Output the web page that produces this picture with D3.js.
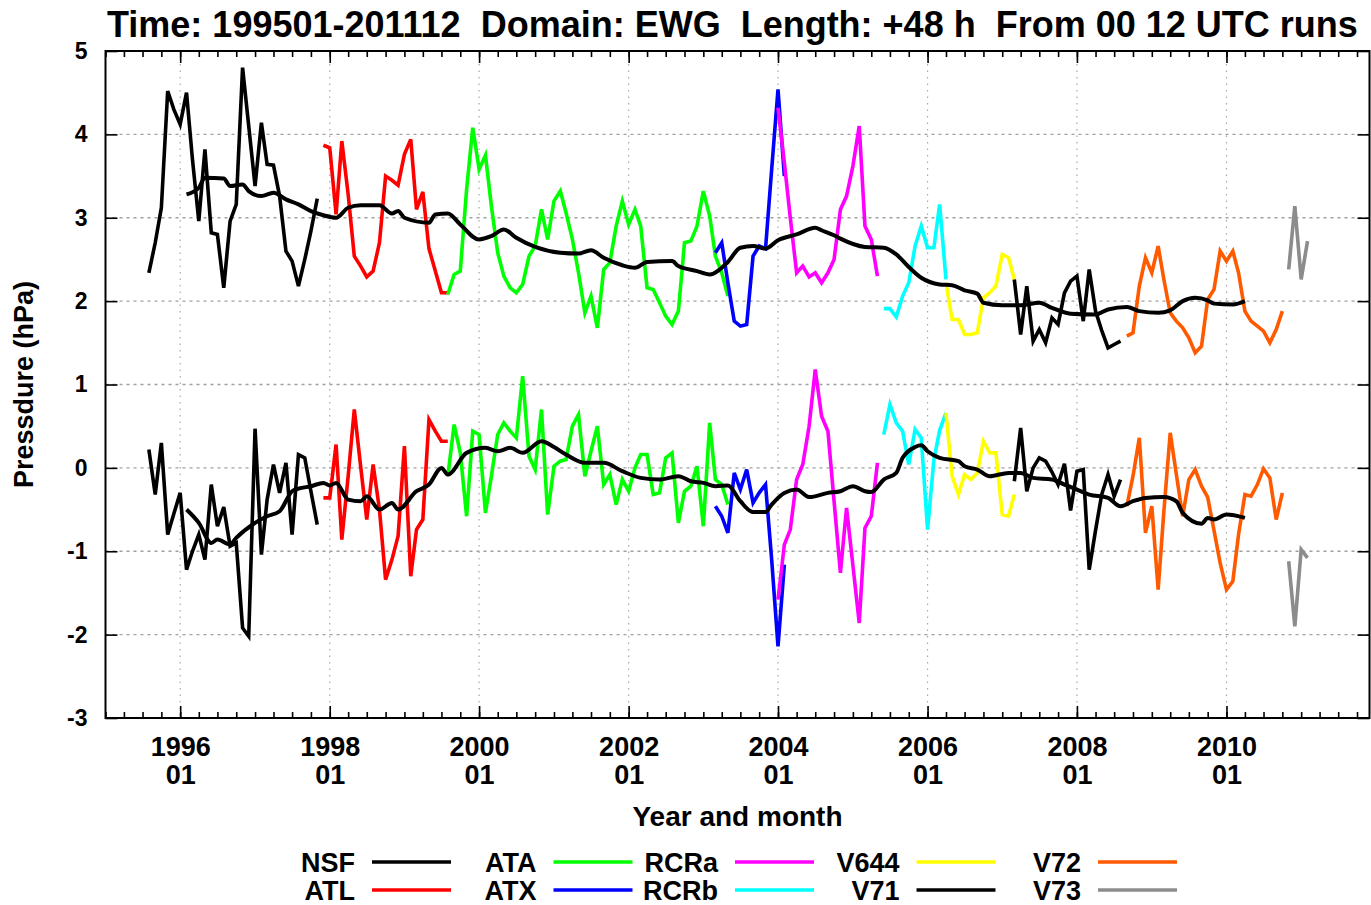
<!DOCTYPE html>
<html>
<head>
<meta charset="utf-8">
<script src="https://cdn.jsdelivr.net/npm/d3@7"></script>
<style>
  body { margin: 0; background: #fff; }
  svg { display: block; }
  text { font-family: "Liberation Sans", Arial, sans-serif; font-weight: bold; fill: #000; }
</style>
</head>
<body>
<script>
// all months are counted from 1995-01 (month 0)
function monthDate(m) { return new Date(1995, m, 1); }

var seriesNames  = ["NSF", "ATL", "ATA", "ATX", "RCRa", "RCRb", "V644", "V71", "V72", "V73"];
var seriesColors = ["#000000", "#ff0000", "#00ff00", "#0000ff", "#ff00ff", "#00ffff", "#ffff00", "#000000", "#ff5a00", "#8c8c8c"];
var seriesStart  = [7, 35, 55, 98, 108, 125, 135, 146, 164, 190];

// upper curves
var upperNSF  = [2.34, 2.70, 3.12, 4.52, 4.30, 4.12, 4.50, 3.70, 2.96, 3.82, 2.82, 2.80, 2.16, 2.96, 3.16, 4.80, 4.10, 3.38, 4.14, 3.64, 3.63, 3.26, 2.60, 2.48, 2.18, 2.50, 2.84, 3.23];
var upperATL  = [3.87, 3.84, 3.04, 3.92, 3.28, 2.54, 2.42, 2.29, 2.36, 2.70, 3.50, 3.45, 3.39, 3.76, 3.94, 3.10, 3.31, 2.63, 2.36, 2.10, 2.10];
var upperATA  = [2.08, 2.32, 2.36, 3.34, 4.08, 3.58, 3.75, 3.14, 2.58, 2.30, 2.16, 2.10, 2.20, 2.54, 2.66, 3.10, 2.74, 3.20, 3.32, 3.06, 2.74, 2.34, 1.86, 2.06, 1.68, 2.38, 2.46, 2.90, 3.20, 2.92, 3.10, 2.90, 2.16, 2.14, 1.98, 1.82, 1.72, 1.88, 2.70, 2.72, 2.90, 3.32, 3.02, 2.54, 2.34, 2.06];
var upperATX  = [2.58, 2.70, 2.22, 1.76, 1.70, 1.72, 2.54, 2.66, 2.63, 3.58, 4.54, 3.50];
var upperRCRa = [4.32, 3.66, 3.00, 2.34, 2.42, 2.29, 2.34, 2.22, 2.34, 2.50, 3.10, 3.26, 3.62, 4.10, 2.90, 2.74, 2.30];
var upperRCRb = [1.91, 1.91, 1.81, 2.06, 2.22, 2.66, 2.90, 2.64, 2.64, 3.16, 2.26];
var upperV644 = [2.22, 1.78, 1.78, 1.60, 1.60, 1.62, 2.04, 2.10, 2.18, 2.56, 2.52, 2.26];
var upperV71  = [2.26, 1.60, 2.18, 1.52, 1.66, 1.50, 1.80, 1.72, 2.10, 2.24, 2.30, 1.76, 2.38, 1.88, 1.65, 1.44, 1.48, 1.52];
var upperV72  = [1.58, 1.62, 2.18, 2.52, 2.34, 2.66, 2.26, 1.86, 1.76, 1.68, 1.56, 1.38, 1.46, 2.02, 2.14, 2.60, 2.48, 2.60, 2.34, 1.88, 1.76, 1.70, 1.64, 1.50, 1.66, 1.88];
var upperV73  = [2.38, 3.14, 2.26, 2.72];

// lower curves
var lowerNSF  = [0.22, -0.32, 0.30, -0.80, -0.55, -0.30, -1.22, -1.00, -0.80, -1.10, -0.20, -0.70, -0.47, -0.94, -0.90, -1.92, -2.02, 0.47, -1.04, -0.38, 0.04, -0.30, 0.06, -0.80, 0.16, 0.12, -0.28, -0.68];
var lowerATL  = [-0.36, -0.36, 0.28, -0.86, -0.10, 0.70, 0.02, -0.62, 0.04, -0.50, -1.34, -1.10, -0.82, 0.26, -1.30, -0.74, -0.62, 0.58, 0.44, 0.32, 0.32];
var lowerATA  = [-0.10, 0.52, 0.18, -0.58, 0.44, 0.40, -0.54, -0.10, 0.40, 0.54, 0.44, 0.36, 1.10, 0.14, -0.02, 0.70, -0.56, 0.02, 0.08, 0.10, 0.50, 0.64, -0.10, 0.20, 0.50, -0.20, -0.08, -0.44, -0.14, -0.28, 0.00, 0.16, 0.16, -0.32, -0.30, 0.12, 0.18, -0.66, -0.28, -0.22, 0.02, -0.70, 0.54, -0.14, -0.20, -0.44];
var lowerATX  = [-0.46, -0.58, -0.78, -0.06, -0.26, -0.02, -0.42, -0.30, -0.20, -1.10, -2.14, -1.16];
var lowerRCRa = [-1.58, -0.92, -0.74, -0.14, 0.04, 0.50, 1.18, 0.62, 0.44, -0.40, -1.26, -0.48, -1.17, -1.86, -0.72, -0.58, 0.06];
var lowerRCRb = [0.40, 0.76, 0.54, 0.44, 0.04, 0.46, 0.36, -0.74, 0.10, 0.45, 0.66];
var lowerV644 = [0.66, -0.10, -0.32, -0.08, -0.14, -0.06, 0.32, 0.18, 0.18, -0.56, -0.58, -0.32];
var lowerV71  = [-0.16, 0.48, -0.28, 0.00, 0.12, 0.08, -0.05, -0.20, 0.05, -0.51, -0.04, -0.02, -1.22, -0.75, -0.32, -0.08, -0.34, -0.14];
var lowerV72  = [-0.46, -0.10, 0.36, -0.78, -0.46, -1.46, -0.52, 0.42, -0.08, -0.58, -0.14, -0.02, -0.22, -0.35, -0.75, -1.14, -1.46, -1.36, -0.80, -0.32, -0.34, -0.20, -0.01, -0.12, -0.62, -0.30];
var lowerV73  = [-1.12, -1.90, -0.98, -1.08];

var upperValues = [upperNSF, upperATL, upperATA, upperATX, upperRCRa, upperRCRb, upperV644, upperV71, upperV72, upperV73];
var lowerValues = [lowerNSF, lowerATL, lowerATA, lowerATX, lowerRCRa, lowerRCRb, lowerV644, lowerV71, lowerV72, lowerV73];

// black running means, read at selected months
var meanUpperMonth = [13, 15, 16, 19, 20, 22, 23, 25, 27, 29, 31, 33, 35, 37, 39, 41, 44, 46, 47, 48, 52, 53, 55, 57, 60, 62, 64, 66, 69, 73, 76, 78, 80, 83, 85, 87, 91, 92, 95, 97, 100, 102, 104, 106, 108, 111, 114, 115, 117, 118, 122, 125, 127, 129, 131, 134, 136, 138, 140, 141, 144, 147, 150, 152, 155, 159, 161, 164, 166, 169, 171, 173, 175, 177, 178, 181, 183];
var meanUpperValue = [3.28, 3.36, 3.48, 3.47, 3.38, 3.40, 3.32, 3.26, 3.30, 3.22, 3.16, 3.08, 3.03, 3.00, 3.12, 3.15, 3.15, 3.05, 3.08, 3.00, 2.94, 3.04, 3.05, 2.92, 2.74, 2.78, 2.86, 2.76, 2.65, 2.58, 2.57, 2.61, 2.52, 2.43, 2.40, 2.47, 2.48, 2.42, 2.36, 2.32, 2.47, 2.64, 2.66, 2.63, 2.73, 2.80, 2.88, 2.85, 2.79, 2.75, 2.65, 2.64, 2.56, 2.41, 2.28, 2.20, 2.19, 2.13, 2.09, 1.98, 1.95, 1.95, 1.98, 1.92, 1.85, 1.84, 1.90, 1.93, 1.88, 1.86, 1.89, 2.00, 2.04, 2.01, 1.97, 1.96, 2.00];
var meanLowerMonth = [13, 15, 17, 18, 20, 21, 24, 26, 28, 30, 31, 33, 35, 36, 37, 39, 41, 42, 44, 46, 47, 50, 52, 54, 55, 58, 61, 63, 65, 67, 70, 72, 74, 77, 80, 83, 86, 89, 92, 94, 96, 98, 100, 102, 104, 106, 107, 109, 111, 113, 116, 118, 120, 122, 123, 125, 127, 128, 130, 131, 132, 134, 137, 138, 140, 142, 145, 147, 149, 152, 154, 156, 158, 161, 163, 165, 167, 170, 172, 173, 176, 177, 178, 180, 183];
var meanLowerValue = [-0.50, -0.66, -0.90, -0.86, -0.92, -0.84, -0.66, -0.58, -0.52, -0.28, -0.25, -0.22, -0.18, -0.21, -0.18, -0.38, -0.40, -0.34, -0.50, -0.42, -0.50, -0.28, -0.20, 0.00, -0.08, 0.18, 0.24, 0.20, 0.24, 0.18, 0.32, 0.25, 0.16, 0.06, 0.06, -0.04, -0.12, -0.14, -0.10, -0.16, -0.18, -0.22, -0.21, -0.40, -0.53, -0.53, -0.44, -0.30, -0.26, -0.35, -0.30, -0.28, -0.22, -0.28, -0.29, -0.14, -0.06, 0.12, 0.25, 0.27, 0.20, 0.12, 0.08, 0.02, -0.02, -0.10, -0.06, -0.06, -0.12, -0.14, -0.20, -0.26, -0.32, -0.36, -0.46, -0.40, -0.36, -0.35, -0.40, -0.54, -0.67, -0.60, -0.62, -0.56, -0.60];

var yTicks = [-3, -2, -1, 0, 1, 2, 3, 4, 5];
var xMajorYears = [1996, 1998, 2000, 2002, 2004, 2006, 2008, 2010];

var titleText = "Time: 199501-201112  Domain: EWG  Length: +48 h  From 00 12 UTC runs";
var xTitle = "Year and month";
var yTitle = "Pressdure (hPa)";

var W = 1371, H = 905;
var plot = {left: 105.5, right: 1369.5, top: 51, bottom: 718};

var svg = d3.select("body").append("svg")
  .attr("width", W)
  .attr("height", H);
svg.append("rect").attr("width", W).attr("height", H).attr("fill", "#fff");

var x = d3.scaleTime().domain([monthDate(0), monthDate(203)]).range([plot.left, plot.right]);
var y = d3.scaleLinear().domain([-3, 5]).range([plot.bottom, plot.top]);

var majorDates = xMajorYears.map(function(yr) { return new Date(yr, 0, 1); });
var minorDates = d3.timeMonth.every(3).range(monthDate(0), monthDate(204));

//grid
svg.append("g").selectAll("line").data(yTicks.slice(1, -1)).enter().append("line")
  .attr("x1", plot.left).attr("x2", plot.right)
  .attr("y1", function(d) { return y(d); }).attr("y2", function(d) { return y(d); })
  .attr("stroke", "#a0a0a0").attr("stroke-width", 1.3)
  .attr("stroke-dasharray", "3,4");
svg.append("g").selectAll("line").data(majorDates).enter().append("line")
  .attr("x1", function(d) { return x(d); }).attr("x2", function(d) { return x(d); })
  .attr("y1", plot.top).attr("y2", plot.bottom)
  .attr("stroke", "#a8a8a8").attr("stroke-width", 1.2)
  .attr("stroke-dasharray", "1.5,5");

//axes, ticks pointing inwards
function styleAxis(g) {
  g.select(".domain").remove();
  g.selectAll(".tick line").attr("stroke", "#000").attr("stroke-width", 1.6);
}
svg.append("g")
  .attr("transform", "translate(0," + plot.bottom + ")")
  .call(d3.axisBottom(x).tickValues(minorDates).tickSize(-6).tickFormat(""))
  .call(styleAxis);
svg.append("g")
  .attr("transform", "translate(0," + plot.top + ")")
  .call(d3.axisTop(x).tickValues(minorDates).tickSize(-6).tickFormat(""))
  .call(styleAxis);
var xAxis = svg.append("g")
  .attr("transform", "translate(0," + plot.bottom + ")")
  .call(d3.axisBottom(x).tickValues(majorDates).tickSize(-12).tickFormat(d3.timeFormat("%Y")))
  .call(styleAxis);
xAxis.attr("font-family", null).attr("font-size", null);
xAxis.selectAll(".tick text")
  .attr("dy", null).attr("y", 38)
  .style("font-size", "27px")
  .each(function(d) {
    d3.select(this).append("tspan").attr("x", 0).attr("y", 66).text(d3.timeFormat("%m")(d));
  });
svg.append("g")
  .attr("transform", "translate(0," + plot.top + ")")
  .call(d3.axisTop(x).tickValues(majorDates).tickSize(-12).tickFormat(""))
  .call(styleAxis);

var yAxis = svg.append("g")
  .attr("transform", "translate(" + plot.left + ",0)")
  .call(d3.axisLeft(y).tickValues(yTicks).tickSize(-12).tickPadding(18).tickFormat(function(d) { return String(d); }))
  .call(styleAxis);
yAxis.attr("font-family", null).attr("font-size", null);
yAxis.selectAll(".tick text").style("font-size", "23px");
svg.append("g")
  .attr("transform", "translate(" + plot.right + ",0)")
  .call(d3.axisRight(y).tickValues(yTicks).tickSize(-12).tickFormat(""))
  .call(styleAxis);

//frame
svg.append("rect")
  .attr("x", plot.left).attr("y", plot.top)
  .attr("width", plot.right - plot.left).attr("height", plot.bottom - plot.top)
  .attr("fill", "none").attr("stroke", "#000").attr("stroke-width", 2);

//data lines
var line = d3.line()
  .x(function(d) { return x(monthDate(d.m)); })
  .y(function(d) { return y(d.v); });

function toPoints(start, vals) {
  return vals.map(function(v, i) { return {m: start + i, v: v}; });
}

var lines = svg.append("g").attr("fill", "none").attr("stroke-width", 3.6);
[upperValues, lowerValues].forEach(function(group) {
  group.forEach(function(vals, i) {
    lines.append("path")
      .datum(toPoints(seriesStart[i], vals))
      .attr("stroke", seriesColors[i])
      .attr("d", line);
  });
});

var meanLine = d3.line()
  .curve(d3.curveMonotoneX)
  .x(function(d) { return x(monthDate(d.m)); })
  .y(function(d) { return y(d.v); });
[[meanUpperMonth, meanUpperValue], [meanLowerMonth, meanLowerValue]].forEach(function(p) {
  lines.append("path")
    .datum(p[0].map(function(m, i) { return {m: m, v: p[1][i]}; }))
    .attr("stroke", "#000")
    .attr("stroke-width", 4)
    .attr("stroke-linejoin", "round")
    .attr("d", meanLine);
});

//titles
svg.append("text")
  .attr("x", 107).attr("y", 37)
  .style("font-size", "36px")
  .style("white-space", "pre")
  .text(titleText);
svg.append("text")
  .attr("x", (plot.left + plot.right) / 2).attr("y", 826)
  .attr("text-anchor", "middle")
  .style("font-size", "28px")
  .text(xTitle);
svg.append("text")
  .attr("transform", "translate(33," + (plot.top + plot.bottom) / 2 + ") rotate(-90)")
  .attr("text-anchor", "middle")
  .style("font-size", "27px")
  .text(yTitle);

//legend, two rows
var legend = svg.append("g");
seriesNames.forEach(function(name, i) {
  var col = Math.floor(i / 2), row = i % 2;
  var lx = 372 + col * 181.5, ly = 862 + row * 28;
  legend.append("text")
    .attr("x", lx - 17).attr("y", ly + 10)
    .attr("text-anchor", "end")
    .style("font-size", "27px")
    .text(name);
  legend.append("line")
    .attr("x1", lx).attr("x2", lx + 79)
    .attr("y1", ly).attr("y2", ly)
    .attr("stroke", seriesColors[i]).attr("stroke-width", 3.4);
});
</script>
</body>
</html>
